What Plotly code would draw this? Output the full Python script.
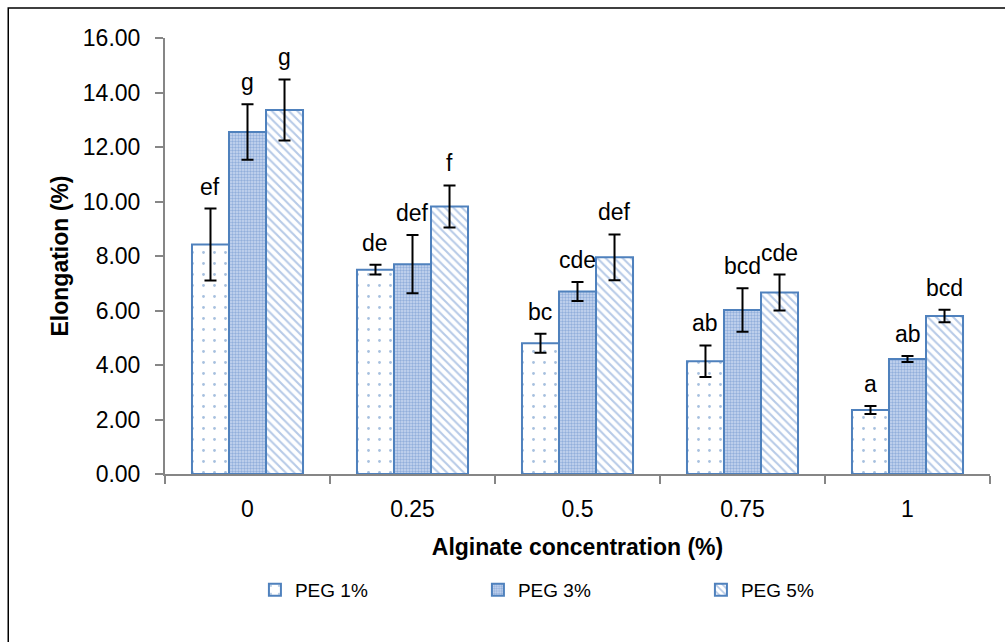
import plotly.graph_objects as go

# Alginate concentration (%) categories
categories = ["0", "0.25", "0.5", "0.75", "1"]

# Mean elongation (%) for each PEG level
peg1 = [8.42, 7.50, 4.80, 4.14, 2.35]
peg3 = [12.55, 7.70, 6.70, 6.02, 4.22]
peg5 = [13.36, 9.82, 7.95, 6.66, 5.80]

# Standard deviations
peg1_err = [1.32, 0.18, 0.35, 0.58, 0.15]
peg3_err = [1.02, 1.07, 0.35, 0.80, 0.11]
peg5_err = [1.12, 0.77, 0.84, 0.66, 0.23]

# Significance letters
peg1_lbl = ["ef", "de", "bc", "ab", "a"]
peg3_lbl = ["g", "def", "cde", "bcd", "ab"]
peg5_lbl = ["g", "f", "def", "cde", "bcd"]

series_names = ["PEG 1%", "PEG 3%", "PEG 5%"]

BLUE = "#4f81bd"
FONT = "Liberation Sans, Arial, sans-serif"
BARGAP = 0.327

styles = [
    dict(shape=".", bgcolor="white", fgcolor=BLUE, size=11, solidity=0.05),
    dict(shape=".", bgcolor="#c9d8f0", fgcolor="#5b86c5", size=3, solidity=0.5),
    dict(shape="\\", bgcolor="white", fgcolor="#6f96cf", size=6, solidity=0.35),
]

fig = go.Figure()
for name, vals, errs, pat in zip(series_names, [peg1, peg3, peg5],
                                 [peg1_err, peg3_err, peg5_err], styles):
    fig.add_trace(go.Bar(
        name=name,
        x=categories,
        y=vals,
        marker=dict(color="white", line=dict(color=BLUE, width=2), pattern=pat),
        error_y=dict(type="data", array=errs, visible=True,
                     color="black", thickness=2, width=6),
    ))

# letters placed above each error bar
offsets = [-1, 0, 1]
for off, vals, errs, lbls in zip(offsets, [peg1, peg3, peg5],
                                 [peg1_err, peg3_err, peg5_err],
                                 [peg1_lbl, peg3_lbl, peg5_lbl]):
    for i, (v, e, t) in enumerate(zip(vals, errs, lbls)):
        fig.add_annotation(
            x=i + off * (1 - BARGAP) / 3, xref="x", y=v + e, yref="y",
            text=t, showarrow=False, yanchor="bottom", yshift=7,
            font=dict(family=FONT, size=23, color="black"),
        )

fig.update_layout(
    width=1005, height=642,
    margin=dict(l=165, r=15, t=38, b=168),
    paper_bgcolor="white", plot_bgcolor="white",
    barmode="group", bargap=BARGAP, bargroupgap=0,
    font=dict(family=FONT, size=23, color="black"),
    showlegend=True,
    legend=dict(
        orientation="h", x=0.109, xanchor="left", y=-0.266, yanchor="middle",
        font=dict(family=FONT, size=19, color="black"),
        entrywidth=178, entrywidthmode="pixels",
        bgcolor="rgba(0,0,0,0)",
    ),
    shapes=[dict(type="rect", xref="paper", yref="paper",
                 x0=-0.19, x1=1.05, y0=-0.5, y1=1.0688,
                 line=dict(color="black", width=1.5), fillcolor="rgba(0,0,0,0)",
                 layer="below")],
)

fig.update_xaxes(
    type="category", showline=True, linecolor="#868686", linewidth=2,
    ticks="outside", tickson="boundaries", ticklen=8, tickcolor="#868686",
    tickwidth=2, showgrid=False, ticklabelstandoff=13,
    title=dict(text="<b>Alginate concentration (%)</b>", standoff=18,
               font=dict(family=FONT, size=23)),
)
fig.update_yaxes(
    range=[0, 16], dtick=2, tickformat=".2f", showline=True,
    linecolor="#868686", linewidth=2, ticks="outside", ticklen=8,
    tickcolor="#868686", tickwidth=2, showgrid=False, zeroline=False,
    ticklabelstandoff=10,
    title=dict(text="<b>Elongation (%)</b>", standoff=8,
               font=dict(family=FONT, size=23)),
)

fig.write_html("out.html")
